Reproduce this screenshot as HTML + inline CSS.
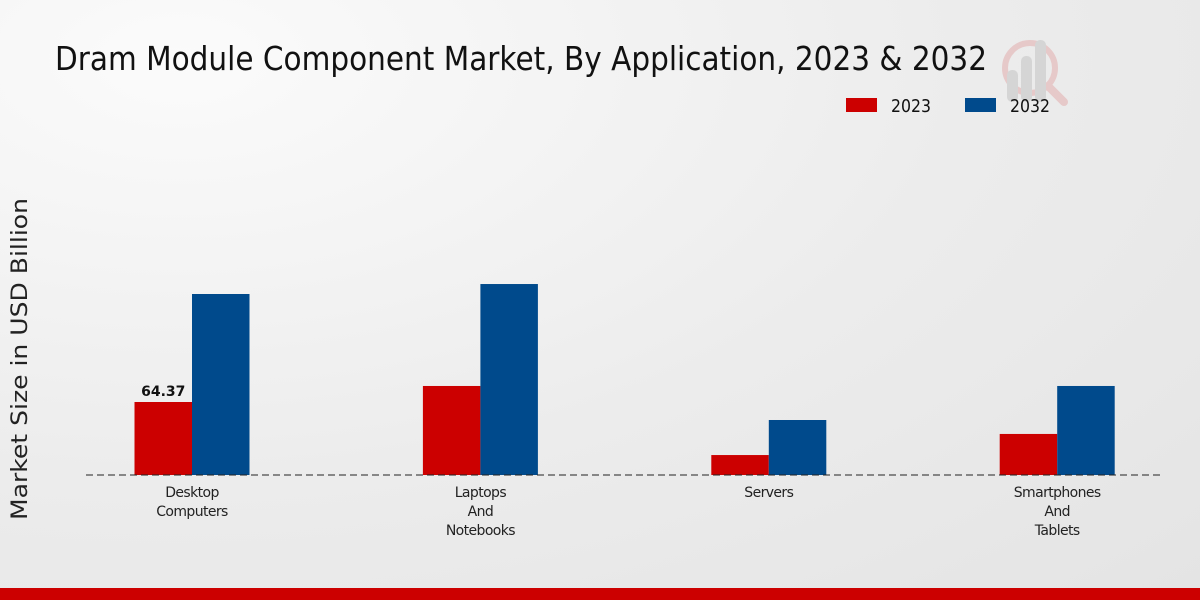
<!DOCTYPE html>
<html><head><meta charset="utf-8"><style>
body{margin:0;width:1200px;height:600px;overflow:hidden;font-family:"DejaVu Sans","Liberation Sans",sans-serif;}
#bg{position:absolute;left:0;top:0;width:1200px;height:600px;background:radial-gradient(ellipse at 15% 10%,#fbfbfb 0%,#ececec 55%,#e4e4e4 100%);}
</style></head><body>
<div id="bg"></div>
<svg id="chart" width="1200" height="600" style="position:absolute;left:0;top:0">
<text x="55" y="70" font-size="33" fill="#111" textLength="932" lengthAdjust="spacingAndGlyphs">Dram Module Component Market, By Application, 2023 &amp; 2032</text>
<g opacity="0.45">
<circle cx="1030" cy="68" r="25" fill="none" stroke="#e0a0a0" stroke-width="6"/>
<line x1="1048" y1="86" x2="1064" y2="102" stroke="#e0a0a0" stroke-width="8" stroke-linecap="round"/>
<rect x="1007" y="70" width="11" height="32" rx="5" fill="#bbb"/>
<rect x="1021" y="56" width="11" height="46" rx="5" fill="#bbb"/>
<rect x="1035" y="40" width="11" height="62" rx="5" fill="#bbb"/>
</g>
<g>
<rect x="846" y="98" width="31" height="14" fill="#cc0000"/>
<text x="891" y="112" font-size="18" fill="#111" textLength="40" lengthAdjust="spacingAndGlyphs">2023</text>
<rect x="965" y="98" width="31" height="14" fill="#004a8c"/>
<text x="1010" y="112" font-size="18" fill="#111" textLength="40" lengthAdjust="spacingAndGlyphs">2032</text>
</g>
<text transform="translate(27,359) rotate(-90)" text-anchor="middle" font-size="22" fill="#222" textLength="322" lengthAdjust="spacingAndGlyphs">Market Size in USD Billion</text>
<g id="bars"></g>
<line x1="86" y1="475" x2="1163" y2="475" stroke="#222" stroke-dasharray="7,4" stroke-width="1"/>
<g id="labels"></g>
<rect x="0" y="588" width="1200" height="12" fill="#cc0000"/>
</svg>
<script>
const categories=[["Desktop","Computers"],["Laptops","And","Notebooks"],["Servers"],["Smartphones","And","Tablets"]];
const values2023=[64.37,78.5,17.6,36.2];
const values2032=[159.6,168.4,48.5,78.5];
const valueLabels=["64.37","","",""];
const NS="http://www.w3.org/2000/svg";
const baseY=475, pxPerUnit=73/64.37;
const y=v=>baseY-v*pxPerUnit;
const xc=i=>192+i*288.4;
const bw=57.5;
const bars=document.getElementById('bars'), labels=document.getElementById('labels');
function mk(tag,attrs,parent){const e=document.createElementNS(NS,tag);for(const k in attrs)e.setAttribute(k,attrs[k]);parent.appendChild(e);return e;}
categories.forEach((c,i)=>{
  const r=mk('rect',{x:xc(i)-bw,y:y(values2023[i]),width:bw,height:baseY-y(values2023[i]),fill:'#cc0000'},bars);
  
  
  const b=mk('rect',{x:xc(i),y:y(values2032[i]),width:bw,height:baseY-y(values2032[i]),fill:'#004a8c'},bars);
  
  
  if(valueLabels[i]){
    const t=mk('text',{x:xc(i)-bw/2,y:y(values2023[i])-6,'text-anchor':'middle','font-size':'14','font-weight':'bold',fill:'#111'},labels);
    t.textContent=valueLabels[i];
    
    
  }
  c.forEach((line,j)=>{
    const t=mk('text',{x:xc(i),y:497+j*19,'text-anchor':'middle','font-size':'14',fill:'#222','letter-spacing':'-0.6'},labels);
    t.textContent=line;
    
    
  });
});
</script>
</body></html>
